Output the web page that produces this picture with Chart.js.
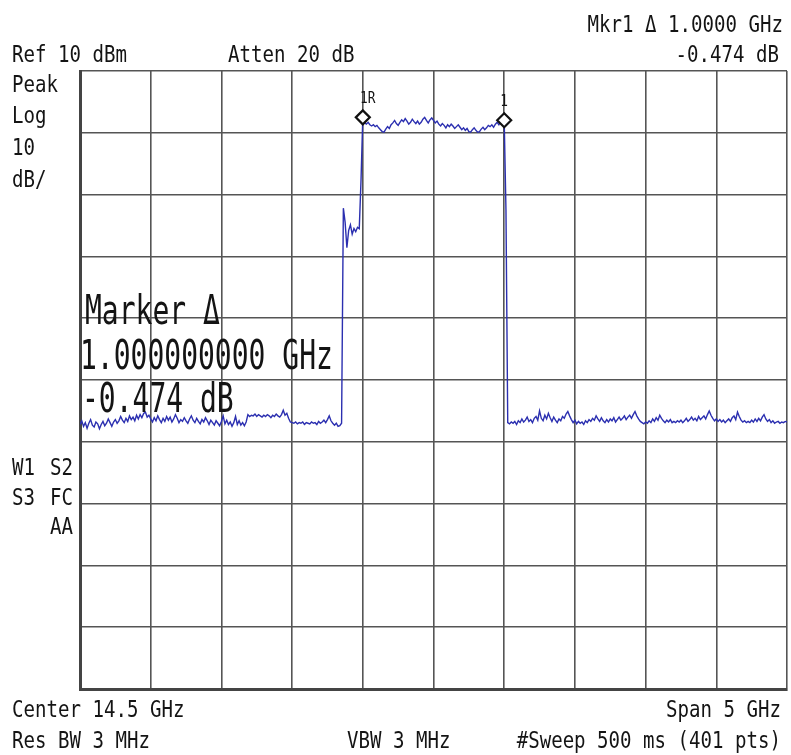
<!DOCTYPE html>
<html>
<head>
<meta charset="utf-8">
<script src="https://cdn.jsdelivr.net/npm/chart.js@4.4.1/dist/chart.umd.min.js"></script>
<style>
html,body{margin:0;padding:0;background:#fff;}
#wrap{position:relative;width:791px;height:755px;}
canvas{display:block;}
</style>
</head>
<body>
<div id="wrap"><canvas id="c" width="791" height="755"></canvas></div>
<script>
// ---- Instrument settings (from screen annotations) ----
const centerGHz = 14.5;
const spanGHz = 5;
const refLevel = 10;      // dBm (top of screen)
const dbPerDiv = 10;
const numDivs = 10;

// ---- Trace data, dBm (401 sweep points) ----
const noiseLeft = [
 -47.2,-46.6,-47.5,-46.9,-47.8,-47.0,-46.4,-47.3,-47.6,-46.8,-47.1,-47.9,-47.2,-46.7,-47.4,-47.0,-46.3,-46.9,-47.5,-46.8,
 -46.4,-47.0,-46.6,-45.9,-46.5,-46.9,-46.2,-46.7,-45.8,-46.4,-46.0,-46.6,-45.7,-46.3,-45.6,-46.1,-45.4,-45.2,-46.0,-45.7,
 -46.3,-46.8,-46.1,-46.6,-45.8,-46.4,-46.9,-46.2,-46.7,-45.9,-46.5,-46.0,-46.8,-46.3,-45.6,-46.2,-46.9,-46.4,-46.7,-46.1,
 -46.6,-47.0,-46.3,-45.8,-46.5,-46.9,-46.2,-46.7,-47.1,-46.4,-46.8,-46.1,-46.6,-47.2,-46.5,-46.9,-47.3,-46.6,-47.0,-47.4,
 -46.7,-45.8,-47.1,-46.5,-47.2,-46.8,-47.5,-46.9,-45.9,-47.2,-46.6,-47.3,-46.9,-47.4,-46.8,-45.6,-45.9,-45.7,-45.8,-45.5,
 -45.9,-45.6,-45.8,-46.0,-45.7,-45.9,-45.6,-45.8,-46.1,-45.7,-45.9,-45.5,-45.8,-46.0,-45.6,-44.9,-45.7,-45.4,-46.2,-46.8,
 -46.9,-47.0,-46.8,-47.1,-46.9,-47.0,-46.8,-47.2,-46.9,-47.0,-47.1,-46.8,-47.0,-46.9,-47.2,-46.7,-47.0,-46.8,-46.5,-46.9,
 -46.4,-45.8,-46.6,-47.0,-47.3,-47.0,-47.5,-47.4
];
const skirt = [-47.0,-12.2,-14.5,-18.6,-15.8,-14.9,-16.4,-15.5,-16.0,-15.3,-15.5,-7.6];
const passband = [
 2.5,1.6,1.4,1.7,1.3,1.1,1.3,1.0,1.2,0.8,
 0.5,0.2,0.1,0.6,1.0,0.7,1.3,1.6,2.0,1.5,
 1.2,1.7,2.1,1.8,2.3,1.9,1.4,1.7,2.2,1.8,
 1.5,1.9,1.4,1.7,2.2,2.5,2.0,1.6,2.1,2.4,
 2.0,1.6,1.9,1.4,1.1,1.5,1.2,0.8,1.3,1.0,
 1.4,1.1,0.7,1.0,1.3,0.9,0.5,0.8,0.4,0.7,
 0.2,0.1,0.5,0.8,0.4,0.1,0.2,0.6,0.9,0.5,
 0.8,1.2,1.0,1.3,0.9,1.4,1.7,1.3,1.8,1.6,
 2.03,-12.5
];
const noiseRight = [
 -46.9,-47.1,-46.8,-47.0,-46.7,-47.2,-46.6,-46.9,-46.3,-46.8,-46.5,-46.0,-46.7,-46.4,-46.9,-46.2,-45.9,-46.5,
 -45.0,-46.2,-46.6,-45.7,-46.3,-45.4,-46.1,-46.7,-46.0,-46.5,-46.9,-46.3,-46.6,-45.9,-46.2,-45.5,-45.1,-45.8,-46.4,-46.9,
 -46.5,-47.1,-46.7,-47.0,-46.8,-47.2,-46.6,-46.9,-46.4,-46.7,-46.2,-46.5,-45.8,-46.3,-46.7,-46.1,-46.6,-46.9,-46.4,-46.8,
 -46.3,-46.6,-46.1,-46.8,-46.4,-46.0,-46.5,-46.2,-45.8,-46.4,-46.0,-45.7,-46.2,-45.6,-45.1,-45.8,-46.3,-46.7,-46.9,-47.1,
 -46.8,-47.0,-46.6,-46.9,-46.3,-46.7,-46.1,-46.5,-45.7,-46.2,-46.6,-46.9,-46.5,-46.8,-46.4,-46.9,-46.7,-46.9,-46.6,-46.8,
 -46.5,-46.9,-46.6,-46.2,-46.7,-46.4,-46.0,-46.5,-46.2,-46.6,-45.9,-46.4,-46.1,-45.8,-46.3,-45.6,-45.0,-45.7,-46.2,-46.6,
 -46.3,-46.7,-46.4,-46.8,-46.5,-46.9,-46.6,-46.3,-46.7,-46.1,-45.8,-46.4,-45.2,-45.9,-46.5,-46.8,-46.6,-46.9,-46.7,-46.9,
 -46.5,-46.8,-46.3,-46.7,-46.2,-46.6,-46.0,-45.6,-46.3,-46.7,-46.4,-46.9,-46.6,-47.0,-46.8,-46.7,-47.0,-46.8,-46.9,-46.7,-46.8
];
// Markers: frequency (GHz)
const markerFreqs = [14.0, 15.0];
const markerLabels = ["1R", "1"];

// ---- Build the sweep ----
const traceLevels = noiseLeft.concat(skirt, passband, noiseRight);
const startGHz = centerGHz - spanGHz / 2;
const stopGHz = centerGHz + spanGHz / 2;
const stepGHz = spanGHz / (traceLevels.length - 1);
const tracePoints = traceLevels.map((v, i) => ({x: startGHz + i * stepGHz, y: v}));
const markerPoints = markerFreqs.map(f => {
  const idx = Math.round((f - startGHz) / stepGHz);
  return {x: f, y: traceLevels[idx]};
});

// ---- Screen annotations ----
const FONT = '"DejaVu Sans Mono", "Liberation Mono", monospace';
const S = 23, SX = 0.83;
const texts = [
  {t: "Ref 10 dBm", x: 12, y: 62, size: S, sx: SX, align: "left"},
  {t: "Atten 20 dB", x: 228, y: 62, size: S, sx: SX, align: "left"},
  {t: "Mkr1 \u0394 1.0000 GHz", x: 783, y: 32, size: S, sx: SX, align: "right"},
  {t: "-0.474 dB", x: 779, y: 62, size: S, sx: SX, align: "right"},
  {t: "Peak", x: 12, y: 92, size: S, sx: SX, align: "left"},
  {t: "Log", x: 12, y: 123, size: S, sx: SX, align: "left"},
  {t: "10", x: 12, y: 155, size: S, sx: SX, align: "left"},
  {t: "dB/", x: 12, y: 187, size: S, sx: SX, align: "left"},
  {t: "W1", x: 12, y: 475, size: S, sx: SX, align: "left"},
  {t: "S2", x: 73, y: 475, size: S, sx: SX, align: "right"},
  {t: "S3", x: 12, y: 505, size: S, sx: SX, align: "left"},
  {t: "FC", x: 73, y: 505, size: S, sx: SX, align: "right"},
  {t: "AA", x: 73, y: 534, size: S, sx: SX, align: "right"},
  {t: "Center 14.5 GHz", x: 12, y: 717, size: S, sx: SX, align: "left"},
  {t: "Res BW 3 MHz", x: 12, y: 748, size: S, sx: SX, align: "left"},
  {t: "VBW 3 MHz", x: 347, y: 748, size: S, sx: SX, align: "left"},
  {t: "Span 5 GHz", x: 781, y: 717, size: S, sx: SX, align: "right"},
  {t: "#Sweep 500 ms (401 pts)", x: 781, y: 748, size: S, sx: SX, align: "right"},
  {t: "Marker \u0394", x: 85, y: 324, size: 40, sx: 0.7, align: "left"},
  {t: "1.000000000 GHz", x: 80, y: 369, size: 40, sx: 0.7, align: "left"},
  {t: "-0.474 dB", x: 82, y: 412, size: 40, sx: 0.7, align: "left"}
];

const annotate = {
  id: "annotate",
  afterDraw(chart) {
    const ctx = chart.ctx;
    ctx.save();
    ctx.fillStyle = "#141414";
    ctx.textBaseline = "alphabetic";
    for (const o of texts) {
      ctx.save();
      ctx.translate(o.x, o.y);
      ctx.scale(o.sx, 1);
      ctx.font = o.size + "px " + FONT;
      ctx.textAlign = o.align;
      ctx.fillText(o.t, 0, 0);
      ctx.restore();
    }
    // marker labels above the diamonds
    const xs = chart.scales.x, ys = chart.scales.y;
    ctx.font = "16px " + FONT;
    ctx.textAlign = "center";
    markerPoints.forEach((p, i) => {
      const px = xs.getPixelForValue(p.x);
      const py = ys.getPixelForValue(p.y);
      ctx.save();
      ctx.translate(px + (markerLabels[i].length > 1 ? 5 : 0), py - 14);
      ctx.scale(0.8, 1);
      ctx.fillText(markerLabels[i], 0, 0);
      ctx.restore();
    });
    ctx.restore();
  }
};

new Chart(document.getElementById("c"), {
  type: "line",
  data: {
    datasets: [
      {
        label: "Trace",
        data: tracePoints,
        borderColor: "#2b2fb0",
        borderWidth: 1.4,
        pointRadius: 0,
        tension: 0,
        order: 2
      },
      {
        type: "scatter",
        label: "Markers",
        data: markerPoints,
        pointStyle: "rectRot",
        pointRadius: 7,
        borderColor: "#111",
        borderWidth: 2.2,
        backgroundColor: "#fff",
        order: 1
      }
    ]
  },
  options: {
    responsive: false,
    animation: false,
    events: [],
    layout: {autoPadding: false, padding: {left: 80, right: 4, top: 71, bottom: 66}},
    plugins: {legend: {display: false}, tooltip: {enabled: false}, title: {display: false}},
    scales: {
      x: {
        type: "linear",
        min: startGHz,
        max: stopGHz,
        ticks: {display: false, stepSize: spanGHz / numDivs},
        grid: {color: "#555", lineWidth: 1.6, drawTicks: false},
        border: {display: true, color: "#444", width: 3}
      },
      y: {
        type: "linear",
        min: refLevel - dbPerDiv * numDivs,
        max: refLevel,
        ticks: {display: false, stepSize: dbPerDiv},
        grid: {color: "#555", lineWidth: 1.6, drawTicks: false},
        border: {display: true, color: "#444", width: 3}
      }
    }
  },
  plugins: [annotate]
});
</script>
</body>
</html>
